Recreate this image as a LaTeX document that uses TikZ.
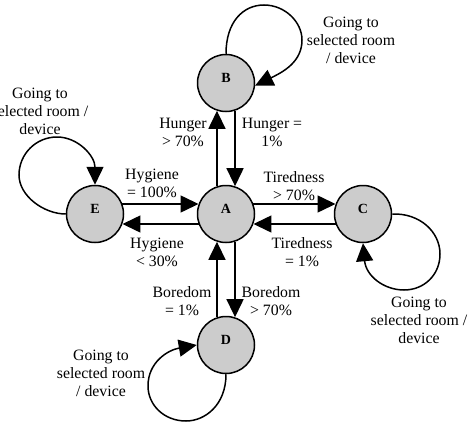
\documentclass[tikz,border=0pt]{standalone}
\usepackage{fontspec}
\setmainfont{Liberation Serif}
\usetikzlibrary{arrows.meta}
\definecolor{nodefill}{RGB}{204,204,204}
\begin{document}
\begin{tikzpicture}[x=1pt,y=-1pt,
  state/.style={circle,draw=black,fill=nodefill,line width=1.5pt,minimum size=57pt,inner sep=0pt},
  statename/.style={font=\fontsize{14}{16}\selectfont\bfseries,yshift=5pt,inner sep=0pt},
  conn/.style={line width=1.5pt,-{Triangle[length=18pt,width=17pt]}},
  txt/.style={font=\fontsize{15.8}{18}\selectfont,align=center,inner sep=0pt},
]
\useasboundingbox (0,0) rectangle (468,423);

% states
\node[state,label={[statename]center:A}] (A) at (226,214) {};
\node[state,label={[statename]center:B}] (B) at (226,83) {};
\node[state,label={[statename]center:C}] (C) at (363,214) {};
\node[state,label={[statename]center:D}] (D) at (226,345) {};
\node[state,label={[statename]center:E}] (E) at (95,214) {};

% transitions between states
\draw[conn] (A.108) -- (B.252);
\draw[conn] (B.288) -- (A.72);
\draw[conn] (A.288) -- (D.72);
\draw[conn] (D.108) -- (A.252);
\draw[conn] (E.20) -- (A.160);
\draw[conn] (A.200) -- (E.340);
\draw[conn] (A.20) -- (C.160);
\draw[conn] (C.200) -- (A.340);

% self loops
\draw[conn] (B.north) .. controls (226,22) and (243,5) .. (264,5)
  .. controls (285,5) and (302,22) .. (302,40)
  .. controls (302,62) and (283,72) .. (B.-5);
\draw[conn] (E.west) .. controls (44,214) and (19,196) .. (19,175)
  .. controls (19,154) and (36,137) .. (57,137)
  .. controls (78,137) and (95,156) .. (E.north);
\draw[conn] (C.east) .. controls (420,213) and (440,232) .. (440,254)
  .. controls (440,275) and (424,290) .. (404,290)
  .. controls (384,290) and (366,276) .. (C.south);
\draw[conn] (D.south) .. controls (226,405) and (205,421) .. (186,421)
  .. controls (164,421) and (148,405) .. (148,386)
  .. controls (148,362) and (168,350) .. (D.west);

% labels
\node[txt] (hunUp) at (183,132) {Hunger\\> 70\%};
\node[txt] (hunDown) at (272,132) {Hunger =\\1\%};
\node[txt] (hygUp) at (152,183) {Hygiene\\= 100\%};
\node[txt] (tirUp) at (294,186) {Tiredness\\> 70\%};
\node[txt] (hygDown) at (157,252) {Hygiene\\< 30\%};
\node[txt] (tirDown) at (302,252) {Tiredness\\= 1\%};
\node[txt] (borUp) at (182,301) {Boredom\\= 1\%};
\node[txt] (borDown) at (271,301) {Boredom\\> 70\%};
\node[txt] (goB) at (351,40) {Going to\\selected room\\/ device};
\node[txt] (goE) at (40,111) {Going to\\selected room /\\device};
\node[txt] (goC) at (419,320) {Going to\\selected room /\\device};
\node[txt] (goD) at (101,373) {Going to\\selected room\\/ device};
\end{tikzpicture}
\end{document}
